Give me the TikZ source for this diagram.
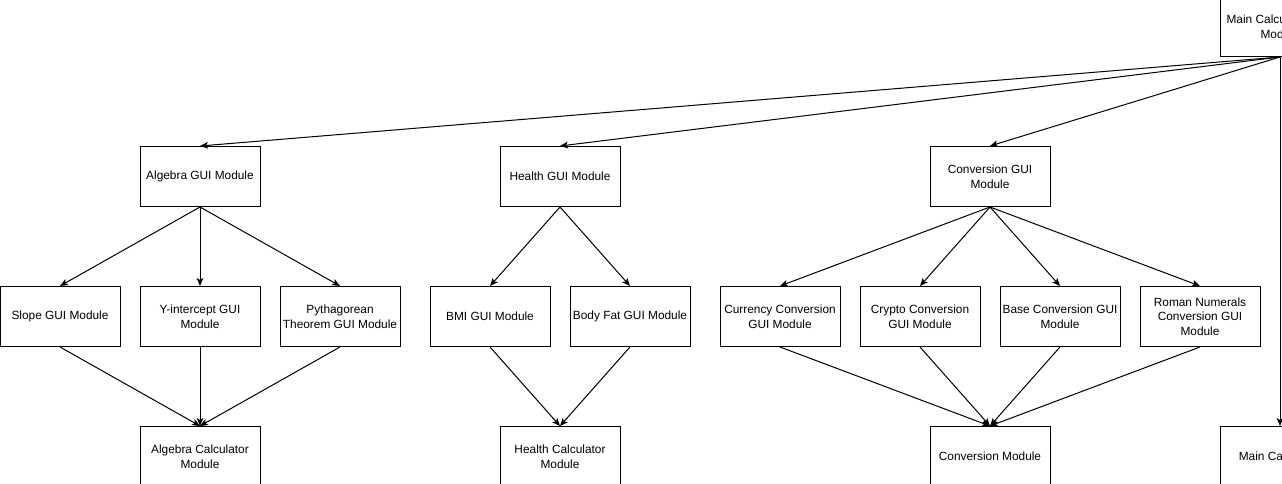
\documentclass[tikz,border=0pt]{standalone}
\usepackage{fontspec}
\setmainfont{Liberation Sans}
\usetikzlibrary{arrows.meta}
\begin{document}
\begin{tikzpicture}[x=0.75pt,y=-0.75pt,
  modbox/.style={draw,line width=0.75pt,minimum width=90pt,minimum height=45pt,
    inner sep=1pt,align=center,font=\fontsize{8.9}{10.9}\selectfont},
  link/.style={line width=0.75pt,-{Stealth[length=6pt,width=5pt,inset=1.5pt]}}]
\useasboundingbox (0,0) rectangle (1282,484);
\clip (0,0) rectangle (1282,484);
\fill[white] (0,0) rectangle (1282,484);
\node[modbox] (main) at (1280,26.5) {Main Calculator GUI\\Module};
\node[modbox] (alggui) at (200,176.5) {Algebra GUI Module};
\node[modbox] (healthgui) at (560,176.5) {Health GUI Module};
\node[modbox] (convgui) at (990,176.5) {Conversion GUI\\Module};
\node[modbox] (slope) at (60,316.5) {Slope GUI Module};
\node[modbox] (yint) at (200,316.5) {Y-intercept GUI\\Module};
\node[modbox] (pyth) at (340,316.5) {Pythagorean\\Theorem GUI Module};
\node[modbox] (bmi) at (490,316.5) {BMI GUI Module};
\node[modbox] (bodyfat) at (630,316.5) {Body Fat GUI Module};
\node[modbox] (currency) at (780,316.5) {Currency Conversion\\GUI Module};
\node[modbox] (crypto) at (920,316.5) {Crypto Conversion\\GUI Module};
\node[modbox] (base) at (1060,316.5) {Base Conversion GUI\\Module};
\node[modbox] (roman) at (1200,316.5) {Roman Numerals\\Conversion GUI\\Module};
\node[modbox] (algcalc) at (200,456.5) {Algebra Calculator\\Module};
\node[modbox] (healthcalc) at (560,456.5) {Health Calculator\\Module};
\node[modbox] (conv) at (990,456.5) {Conversion Module};
\node[modbox] (maincalc) at (1280,456.5) {Main Calculator};
\draw[link] (main.south) -- (alggui.north);
\draw[link] (main.south) -- (healthgui.north);
\draw[link] (main.south) -- (convgui.north);
\draw[link] (main.south) -- (maincalc.north);
\draw[link] (alggui.south) -- (slope.north);
\draw[link] (alggui.south) -- (yint.north);
\draw[link] (alggui.south) -- (pyth.north);
\draw[link] (healthgui.south) -- (bmi.north);
\draw[link] (healthgui.south) -- (bodyfat.north);
\draw[link] (convgui.south) -- (currency.north);
\draw[link] (convgui.south) -- (crypto.north);
\draw[link] (convgui.south) -- (base.north);
\draw[link] (convgui.south) -- (roman.north);
\draw[link] (slope.south) -- (algcalc.north);
\draw[link] (yint.south) -- (algcalc.north);
\draw[link] (pyth.south) -- (algcalc.north);
\draw[link] (bmi.south) -- (healthcalc.north);
\draw[link] (bodyfat.south) -- (healthcalc.north);
\draw[link] (currency.south) -- (conv.north);
\draw[link] (crypto.south) -- (conv.north);
\draw[link] (base.south) -- (conv.north);
\draw[link] (roman.south) -- (conv.north);
\end{tikzpicture}
\end{document}
